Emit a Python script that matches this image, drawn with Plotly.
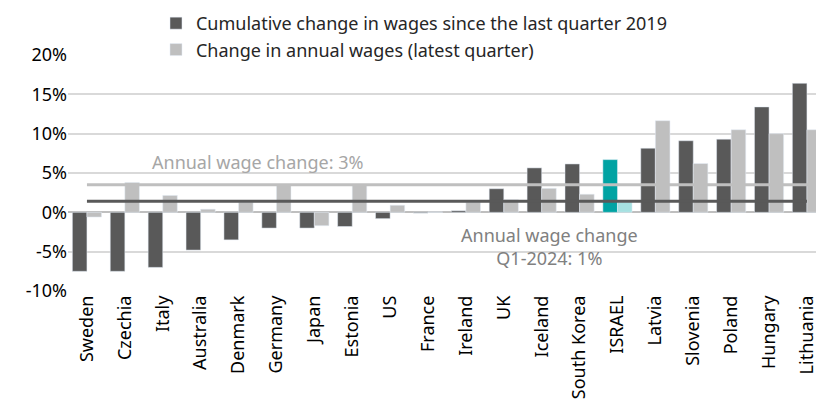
import plotly.graph_objects as go

countries = ["Sweden", "Czechia", "Italy", "Australia", "Denmark", "Germany", "Japan",
             "Estonia", "US", "France", "Ireland", "UK", "Iceland", "South Korea",
             "ISRAEL", "Latvia", "Slovenia", "Poland", "Hungary", "Lithuania"]
cumulative = [-7.5, -7.5, -7.0, -4.8, -3.5, -2.0, -2.0, -1.8, -0.8, -0.1, 0.2, 3.0,
              5.65, 6.15, 6.7, 8.15, 9.1, 9.3, 13.4, 16.4]
annual = [-0.6, 3.8, 2.15, 0.4, 1.3, 3.5, -1.7, 3.5, 0.9, 0.05, 1.3, 1.6,
          3.05, 2.3, 1.3, 11.65, 6.2, 10.5, 10.0, 10.5]
avg_annual = 3.5      # "Annual wage change: 3%" line
avg_q1_2024 = 1.4     # "Annual wage change Q1-2024: 1%" line

y_ticks = [-10, -5, 0, 5, 10, 15, 20]
y_labels = ["-10%", "-5%", "0%", "5%", "10%", "15%", "20%"]

DARK, LIGHT = "#595959", "#BFBFBF"
TEAL, TEAL_LIGHT = "#00A3A3", "#A6E1E1"
FONT = "Noto Sans"

dark_cols = [TEAL if c == "ISRAEL" else DARK for c in countries]
light_cols = [TEAL_LIGHT if c == "ISRAEL" else LIGHT for c in countries]

fig = go.Figure()
fig.add_trace(go.Bar(x=countries, y=cumulative, marker_color=dark_cols,
                     name="Cumulative change in wages since the last quarter 2019"))
fig.add_trace(go.Bar(x=countries, y=annual, marker_color=light_cols,
                     name="Change in annual wages (latest quarter)"))

# reference lines, drawn above the bars
fig.add_shape(type="line", xref="x", yref="y", x0=0, x1=19.5, y0=avg_annual, y1=avg_annual,
              line=dict(color=LIGHT, width=3), layer="above")
fig.add_shape(type="line", xref="x", yref="y", x0=0, x1=19, y0=avg_q1_2024, y1=avg_q1_2024,
              line=dict(color=DARK, width=3), layer="above")

fig.add_annotation(x=4.5, y=6.4, xref="x", yref="y", text="Annual wage change: 3%",
                   showarrow=False, font=dict(family=FONT, size=18, color="#A6A6A6"))
fig.add_annotation(x=12.2, y=-4.4, xref="x", yref="y",
                   text="Annual wage change<br>Q1-2024: 1%",
                   showarrow=False, font=dict(family=FONT, size=18, color="#808080"))

# page body adds an 8px margin, so the figure is 8px smaller and shifted
fig.update_layout(
    width=816, height=407,
    margin=dict(l=60, r=0, t=47, b=124, autoexpand=False),
    plot_bgcolor="white", paper_bgcolor="white",
    barmode="group", bargap=0.23, bargroupgap=0,
    font=dict(family=FONT, size=18, color="#262626"),
    legend=dict(orientation="v", x=0.1164, y=1.212, xanchor="left", yanchor="top",
                font=dict(size=18, color="#262626"), bgcolor="rgba(0,0,0,0)",
                tracegroupgap=0),
    showlegend=True,
)
fig.update_xaxes(range=[-0.5, 19.45], tickangle=-90, showgrid=False, showline=False,
                 ticks="", automargin=False, tickfont=dict(size=18, color="#000000"))
fig.update_yaxes(range=[-10, 20], tickvals=y_ticks, ticktext=y_labels,
                 showgrid=True, gridcolor="#D9D9D9", gridwidth=2,
                 zeroline=True, zerolinecolor="#BFBFBF", zerolinewidth=2,
                 ticks="", automargin=False, tickfont=dict(size=18, color="#000000"))

fig.write_html("out.html")
